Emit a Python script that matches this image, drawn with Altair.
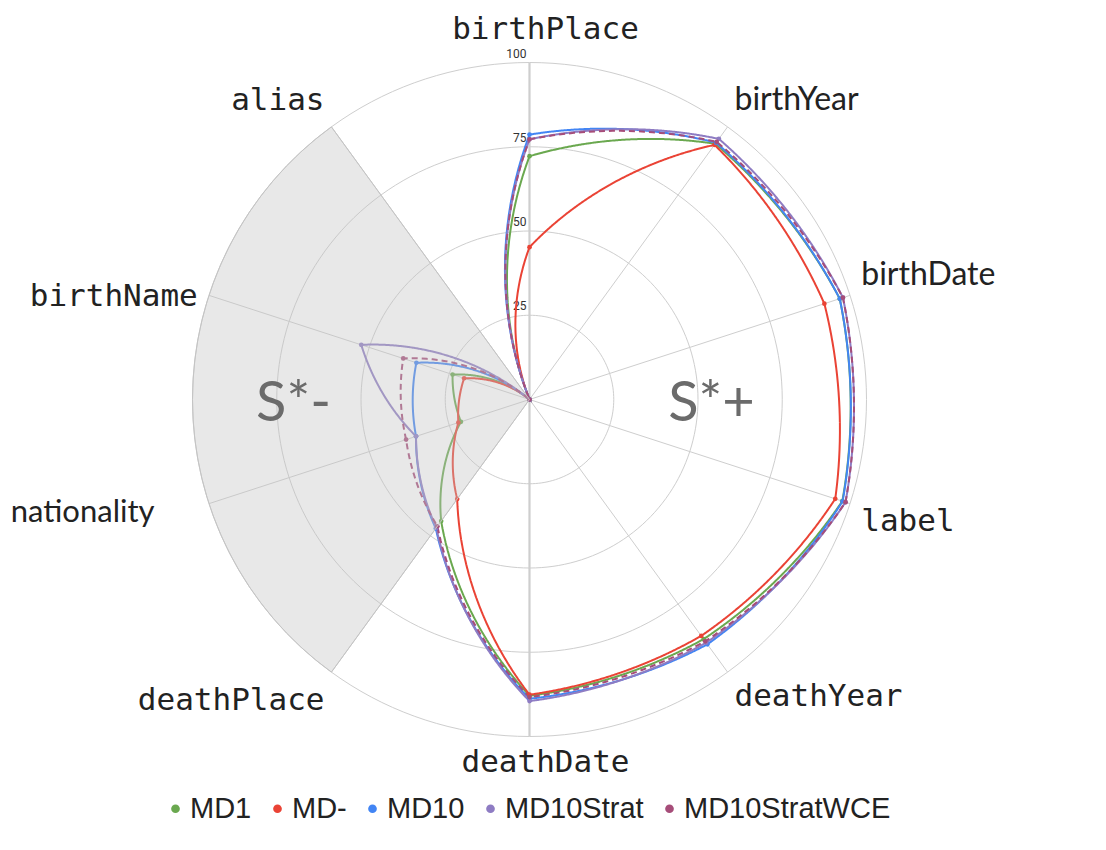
import altair as alt
import pandas as pd

# ---------------- data ----------------
axes_names = ["birthPlace", "birthYear", "birthDate", "label", "deathYear",
              "deathDate", "deathPlace", "nationality", "birthName", "alias"]
series_names = ["MD1", "MD-", "MD10", "MD10Strat", "MD10StratWCE"]
md1 = [72.2, 93.8, 96.8, 97.6, 87.9, 87.9, 44.6, 21.4, 24.0, 0.0]
md_minus = [45.2, 93.4, 92.0, 95.4, 86.7, 87.6, 36.5, 22.2, 20.4, 0.0]
md10 = [78.6, 94.2, 96.8, 97.7, 89.8, 88.8, 47.3, 35.4, 35.3, 0.0]
md10strat = [77.2, 95.6, 97.8, 98.6, 89.2, 89.5, 47.0, 35.4, 52.5, 0.0]
md10stratwce = [77.2, 94.5, 97.8, 98.6, 88.7, 88.3, 46.5, 38.5, 39.4, 0.0]
series_colors = ["#6aa84f", "#ea4335", "#4285f4", "#8e7cc3", "#a64d79"]
grid_levels = [25, 50, 75, 100]
zone_labels = ["S*-", "S*+"]
sans_labels = ["birthYear", "birthDate"]      # drawn in a sans font
special_label = "nationality"                 # sans font, placed on its own

# ---------------- layout / style ----------------
N = len(axes_names)
W, H = 1090, 834
CX, CY = 521.5, 391.5          # centre of the radar inside the plot area (px)
U = 3.37                       # px per unit
X_DOM = [-CX / U, (W - CX) / U]
Y_DOM = [-(H - CY) / U, CY / U]
K = 0.6                        # curvature of the segments (polar blend)
STEP = 24
LAB_R = 103.5
TOP_R = 107
NAT_R = 117
SECTOR = (6, 9)                # shaded sector between these axes
ZONE_POS = [(270, 70), (90, 54)]

xs = alt.Scale(domain=X_DOM, nice=False, zero=False)
ys = alt.Scale(domain=Y_DOM, nice=False, zero=False)


def X(f):
    return alt.X(f, type="quantitative", scale=xs, axis=None)


def Y(f):
    return alt.Y(f, type="quantitative", scale=ys, axis=None)


rows = []
for name, vals in zip(series_names, [md1, md_minus, md10, md10strat, md10stratwce]):
    for i, (ax, v) in enumerate(zip(axes_names, vals)):
        rows.append({"series": name, "axis": ax, "idx": i, "value": v})
df = pd.DataFrame(rows)
df_axes = pd.DataFrame({"axis": axes_names, "idx": list(range(N)),
                        "sans": [a in sans_labels for a in axes_names]})
df_grid = pd.DataFrame({"level": grid_levels})
df_zone = pd.DataFrame({"text": zone_labels,
                        "deg": [p[0] for p in ZONE_POS],
                        "r": [p[1] for p in ZONE_POS]})

color_scale = alt.Scale(domain=series_names, range=series_colors)

# ---------------- grid ----------------
circles = alt.Chart(df_grid).transform_calculate(
    steps="sequence(0, 361, 2)"
).transform_flatten(["steps"], as_=["deg"]).transform_calculate(
    px="datum.level * sin(datum.deg * PI / 180)",
    py="datum.level * cos(datum.deg * PI / 180)",
).mark_line(stroke="#cecece", strokeWidth=1).encode(
    x=X("px"), y=Y("py"), detail="level:N", order="deg:Q"
)

spokes = alt.Chart(df_axes).transform_calculate(
    ends="sequence(0, 101, 100)"
).transform_flatten(["ends"], as_=["rr"]).transform_calculate(
    px=f"datum.rr * sin(datum.idx * 2 * PI / {N})",
    py=f"datum.rr * cos(datum.idx * 2 * PI / {N})",
).mark_line(stroke="#cecece").encode(
    x=X("px"), y=Y("py"), detail="axis:N", order="rr:Q",
    strokeWidth=alt.condition("datum.idx % 5 == 0", alt.value(2.2), alt.value(1)),
)

ticks = alt.Chart(df_grid).transform_calculate(zero="0").mark_text(
    align="right", baseline="bottom", dx=-3, dy=-2,
    font="Roboto", fontSize=12, color="#333333"
).encode(x=X("zero"), y=Y("level"), text="level:Q")

# ---------------- series ----------------
seg = alt.Chart(df).transform_window(
    nxt="lead(value)", first="first_value(value)",
    frame=[None, None], groupby=["series"], sort=[alt.SortField("idx", order="ascending")]
).transform_calculate(
    nv="isValid(datum.nxt) ? datum.nxt : datum.first",
    steps=f"sequence(0, {STEP + 1})",
).transform_flatten(["steps"], as_=["s"]).transform_calculate(
    t=f"datum.s / {STEP}",
    a0=f"datum.idx * 2 * PI / {N}",
    a1=f"(datum.idx + 1) * 2 * PI / {N}",
).transform_calculate(
    a="datum.a0 + datum.t * (datum.a1 - datum.a0)",
    r="datum.value + datum.t * (datum.nv - datum.value)",
).transform_calculate(
    px=f"{K} * datum.r * sin(datum.a) + {1 - K} * ((1 - datum.t) * datum.value * sin(datum.a0) + datum.t * datum.nv * sin(datum.a1))",
    py=f"{K} * datum.r * cos(datum.a) + {1 - K} * ((1 - datum.t) * datum.value * cos(datum.a0) + datum.t * datum.nv * cos(datum.a1))",
    ord="datum.idx * 1000 + datum.s",
)

lines = seg.mark_line(strokeWidth=2).encode(
    x=X("px"), y=Y("py"),
    color=alt.Color("series:N", scale=color_scale, legend=None),
    strokeDash=alt.StrokeDash("series:N", scale=alt.Scale(
        domain=series_names, range=[[1, 0], [1, 0], [1, 0], [1, 0], [6, 4]]), legend=None),
    order="ord:Q",
)

points = alt.Chart(df).transform_calculate(
    px=f"datum.value * sin(datum.idx * 2 * PI / {N})",
    py=f"datum.value * cos(datum.idx * 2 * PI / {N})",
).mark_point(filled=True, size=22, opacity=1).encode(
    x=X("px"), y=Y("py"),
    color=alt.Color("series:N", scale=color_scale, legend=alt.Legend(
        orient="none", legendX=153, legendY=786, direction="horizontal",
        title=None, symbolType="circle", symbolSize=75, symbolStrokeWidth=0,
        labelFont="Liberation Sans", labelFontSize=29, labelColor="#222222",
        labelOffset=0, columnPadding=11, padding=0, labelLimit=400,
    )),
)

# ---------------- shaded sector ----------------
sector = alt.Chart(pd.DataFrame({"zone": zone_labels[:1]})).mark_arc(
    theta=SECTOR[0] * 2 * 3.141592653589793 / N,
    theta2=SECTOR[1] * 2 * 3.141592653589793 / N,
    radius=100 * U, fill="#c2c2c2", fillOpacity=0.38,
    stroke="#c4c4c4", strokeWidth=1,
).encode(x=alt.X(datum=0, type="quantitative", scale=xs, axis=None),
         y=alt.Y(datum=0, type="quantitative", scale=ys, axis=None))

zones = alt.Chart(df_zone).transform_calculate(
    px="datum.r * sin(datum.deg * PI / 180)",
    py="datum.r * cos(datum.deg * PI / 180)",
).mark_text(font="Lato", fontSize=56, color="#6b6b6b", dy=4,
            align="center", baseline="middle").encode(
    x=X("px"), y=Y("py"), text="text:N")

# ---------------- axis labels ----------------
lab_base = alt.Chart(df_axes).transform_calculate(
    sn=f"sin(datum.idx * 2 * PI / {N})",
    cs=f"cos(datum.idx * 2 * PI / {N})",
    rl=f"datum.idx == 0 ? {TOP_R} : {LAB_R}",
).transform_calculate(px="datum.rl * datum.sn", py="datum.rl * datum.cs")

combos = [
    ("abs(datum.sn) < 0.1 && datum.cs > 0", "center", "alphabetic", 16, 0),
    ("abs(datum.sn) < 0.1 && datum.cs < 0", "center", "top", 16, 0),
    ("datum.sn > 0.1 && datum.cs > 0", "left", "bottom", 0, 0),
    ("datum.sn > 0.1 && datum.cs < 0", "left", "top", 0, 0),
    ("datum.sn < -0.1 && datum.sn > -0.9 && datum.cs < 0", "right", "top", 0, 4),
    ("datum.sn <= -0.9", "right", "middle", 0, 5),
    ("datum.sn < -0.1 && datum.sn > -0.9 && datum.cs > 0", "right", "bottom", 0, 0),
]
label_layers = []
for test, al, bl, ddx, ddy in combos:
    for sans in (False, True):
        font = "Lato" if sans else "DejaVu Sans Mono"
        size = 32 if sans else 31
        cond = "datum.sans" if sans else "!datum.sans"
        label_layers.append(
            lab_base.transform_filter(f"({test}) && {cond} && datum.axis != '{special_label}'")
            .mark_text(font=font, fontSize=size, color="#222222",
                       align=al, baseline=bl, dx=ddx, dy=ddy)
            .encode(x=X("px"), y=Y("py"), text="axis:N")
        )
nat = alt.Chart(df_axes).transform_filter(f"datum.axis == '{special_label}'").transform_calculate(
    px=f"{NAT_R} * sin(datum.idx * 2 * PI / {N})",
    py=f"{NAT_R} * cos(datum.idx * 2 * PI / {N})",
).mark_text(font="Lato", fontSize=31, color="#222222", align="right",
            baseline="middle", dy=-8).encode(x=X("px"), y=Y("py"), text="axis:N")

chart = alt.layer(
    circles, spokes, ticks, lines, points, sector, zones, *label_layers, nat
).resolve_legend(color="independent", strokeDash="independent").properties(
    width=W, height=H, padding=0,
    autosize=alt.AutoSizeParams(type="none"),
).configure_view(stroke=None)

chart.save("out.html", embed_options={"renderer": "svg", "actions": False})
